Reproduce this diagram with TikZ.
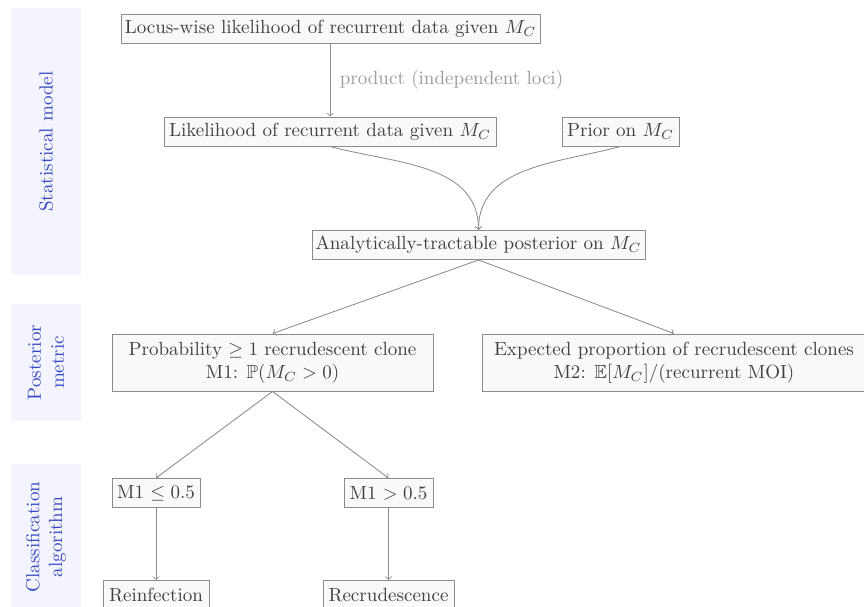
\documentclass[tikz,border=0pt]{standalone}
\usepackage{amssymb}
\usetikzlibrary{calc}
\newlength\pxu
\setlength\pxu{0.525pt}
\definecolor{panelfill}{HTML}{F3F4FD}
\definecolor{paneltext}{HTML}{3748C0}
\definecolor{boxfill}{HTML}{F9F9F9}
\definecolor{boxdraw}{HTML}{8C8C8C}
\definecolor{boxtext}{HTML}{404040}
\definecolor{labeltext}{HTML}{9A9A9A}
\tikzset{
  stagebox/.style={draw=boxdraw, fill=boxfill, text=boxtext, line width=0.5pt,
    inner sep=0pt, minimum height=29\pxu, align=center},
  sidepanel/.style={fill=panelfill, draw=none, text=paneltext, inner sep=0pt,
    minimum width=70\pxu, align=center},
  sidetext/.style={text=paneltext, rotate=90, align=center},
  link/.style={draw=boxdraw, line width=0.45pt, ->},
}
\begin{document}
\begin{tikzpicture}[x=0.525pt, y=-0.525pt]
\useasboundingbox (0,0) rectangle (864,607);
\clip (0,0) rectangle (864,607);
% side panels
\node[sidepanel, minimum height=267\pxu] (pan1) at (46,141.5) {};
\node[sidepanel, minimum height=117\pxu] (pan2) at (46,362.5) {};
\node[sidepanel, minimum height=146\pxu] (pan3) at (46,537) {};
\node[sidetext] (pt1) at (pan1) {Statistical model};
\node[sidetext] (pt2) at (pan2) {Posterior\\metric};
\node[sidetext] (pt3) at (pan3) {Classification\\algorithm};
% boxes
\node[stagebox, minimum width=419\pxu] (A) at (330.5,28.5) {Locus-wise likelihood of recurrent data given $M_C$};
\node[stagebox, minimum width=332\pxu] (B) at (330,131.5) {Likelihood of recurrent data given $M_C$};
\node[stagebox, minimum width=117\pxu] (prior) at (620.5,131.5) {Prior on $M_C$};
\node[stagebox, minimum width=333\pxu] (post) at (478.5,245) {Analytically-tractable posterior on $M_C$};
\node[stagebox, minimum width=321\pxu, minimum height=57\pxu] (P1) at (272.5,362.5) {Probability $\geq 1$ recrudescent clone\\M1: $\mathbb{P}(M_C>0)$};
\node[stagebox, minimum width=384\pxu, minimum height=57\pxu] (P2) at (674,362.5) {Expected proportion of recrudescent clones\\M2: $\mathbb{E}[M_C]/(\mathrm{recurrent\ MOI})$};
\node[stagebox, minimum width=88\pxu] (C1) at (156,493) {M1 $\leq 0.5$};
\node[stagebox, minimum width=89\pxu] (C2) at (388.5,493) {M1 $> 0.5$};
\node[stagebox, minimum width=106\pxu] (R1) at (156,595) {Reinfection};
\node[stagebox, minimum width=131\pxu] (R2) at (388.5,595) {Recrudescence};
% connectors
\draw[link] (A.south -| B.north) -- node[right=3\pxu, text=labeltext] (lab) {product (independent loci)} (B.north);
\draw[link] (B.south) to[out=-15, in=90] (post.north);
\draw[link] (prior.south) to[out=195, in=90] (post.north);
\draw[link] (post.south) -- (P1.north);
\draw[link] (post.south) -- (P2.north);
\draw[link] (P1.south) -- (C1.north);
\draw[link] (P1.south) -- (C2.north);
\draw[link] (C1.south) -- (R1.north);
\draw[link] (C2.south) -- (R2.north);
\end{tikzpicture}
\end{document}
